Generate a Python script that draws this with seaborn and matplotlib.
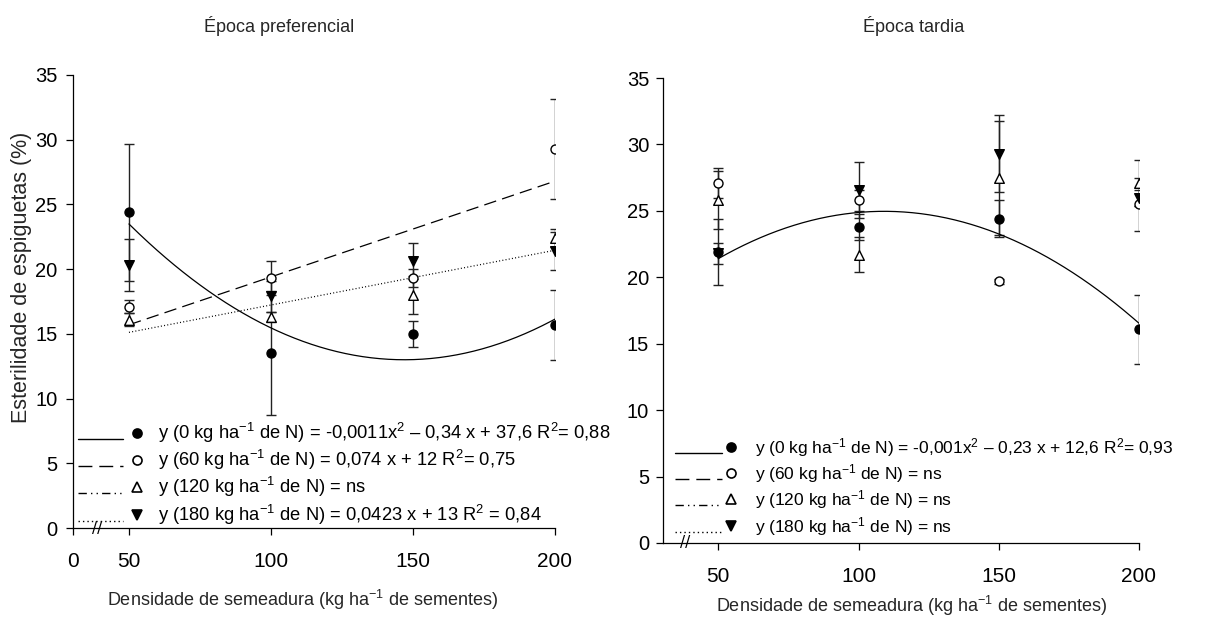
import numpy as np
import pandas as pd
import matplotlib
matplotlib.use("Agg")
import matplotlib.pyplot as plt
import seaborn as sns
from matplotlib.lines import Line2D
from matplotlib.transforms import blended_transform_factory

# ---------------- data ----------------
density = [50, 100, 150, 200]
x_ticks_left = [0, 50, 100, 150, 200]
x_ticks_right = [50, 100, 150, 200]
y_ticks = [0, 5, 10, 15, 20, 25, 30, 35]

# Época preferencial (spikelet sterility %, mean and error)
pref_n0 = [24.4, 13.5, 15.0, 15.7]
pref_n0_err = [5.3, 4.8, 1.0, 2.7]
pref_n60 = [17.1, 19.3, 19.3, 29.3]
pref_n60_err = [0.5, 1.3, 0.7, 3.85]
pref_n120 = [16.1, 16.3, 18.0, 22.4]
pref_n120_err = [0.5, 0.4, 1.5, 0.7]
pref_n180 = [20.3, 17.9, 20.6, 21.4]
pref_n180_err = [2.0, 1.2, 1.4, 1.5]

# Época tardia
tard_n0 = [21.9, 23.8, 24.4, 16.1]
tard_n0_err = [2.5, 1.0, 1.4, 2.6]
tard_n60 = [27.1, 25.8, 19.7, 25.5]
tard_n60_err = [1.1, 0.8, 0.2, 2.0]
tard_n120 = [25.8, 21.7, 27.5, 27.1]
tard_n120_err = [2.2, 1.3, 4.3, 1.7]
tard_n180 = [21.8, 26.6, 29.3, 26.0]
tard_n180_err = [0.8, 2.1, 2.9, 0.6]

# fitted trend lines (polynomial coefficients, highest power first)
pref_fit_n0 = [0.001116, -0.328, 37.1]
pref_fit_n60 = [0.074, 12.0]
pref_fit_n180 = [0.0423, 13.0]
tard_fit_n0 = [-0.00102, 0.2226, 12.82]

legend_left = [
    r"y (0 kg ha$^{-1}$ de N) = -0,0011x$^{2}$ – 0,34 x + 37,6 R$^{2}$= 0,88",
    r"y (60 kg ha$^{-1}$ de N) = 0,074 x + 12 R$^{2}$= 0,75",
    r"y (120 kg ha$^{-1}$ de N) = ns",
    r"y (180 kg ha$^{-1}$ de N) = 0,0423 x + 13 R$^{2}$ = 0,84",
]
legend_right = [
    r"y (0 kg ha$^{-1}$ de N) = -0,001x$^{2}$ – 0,23 x + 12,6 R$^{2}$= 0,93",
    r"y (60 kg ha$^{-1}$ de N) = ns",
    r"y (120 kg ha$^{-1}$ de N) = ns",
    r"y (180 kg ha$^{-1}$ de N) = ns",
]
xlabel = r"Densidade de semeadura (kg ha$^{-1}$ de sementes)"
ylabel = "Esterilidade de espiguetas (%)"

# ---------------- style ----------------
sns.set_theme(style="ticks")
plt.rcParams["font.family"] = ["Liberation Sans", "DejaVu Sans"]
plt.rcParams["mathtext.fontset"] = "custom"
plt.rcParams["mathtext.rm"] = "Liberation Sans"
plt.rcParams["mathtext.it"] = "Liberation Sans:italic"
plt.rcParams["mathtext.default"] = "regular"

W, H = 1207, 626
fig = plt.figure(figsize=(W / 100, H / 100), dpi=100)

def px(x, y):
    return x / W, 1 - y / H

# broken x-axis: 0-50 compressed
K = 0.394
def fwd(x):
    x = np.asarray(x, dtype=float)
    return np.where(x < 50, x * K, 50 * K + (x - 50))
def inv(u):
    u = np.asarray(u, dtype=float)
    return np.where(u < 50 * K, u / K, u - 50 * K + 50)

styles = {
    "N0": dict(marker="o", face="black", s=42, ls="-"),
    "N60": dict(marker="o", face="white", s=42, ls=(0, (10, 5))),
    "N120": dict(marker="^", face="white", s=48, ls=(0, (6, 3, 1, 3, 1, 3))),
    "N180": dict(marker="v", face="black", s=48, ls=(0, (0.8, 1.8))),
}

def draw_panel(ax, means, errs, fits, xticks, ypad, xpad, brk_x):
    ax.set_xscale("function", functions=(fwd, inv))
    for key in ["N0", "N60", "N120", "N180"]:
        ax.errorbar(density, means[key], yerr=errs[key], fmt="none",
                    ecolor="#222222", elinewidth=1.0, capsize=3.4, capthick=1.0, zorder=2)
    for key in ["N0", "N60", "N120", "N180"]:
        st = styles[key]
        df = pd.DataFrame({"x": density, "y": means[key]})
        sns.scatterplot(data=df, x="x", y="y", ax=ax, marker=st["marker"], s=st["s"],
                        color=st["face"], edgecolor="black", linewidth=1.0, zorder=4,
                        legend=False)
    xs = np.linspace(50, 200, 300)
    for key, coef in fits.items():
        sns.lineplot(x=xs, y=np.polyval(coef, xs), ax=ax, color="black", lw=0.9,
                     linestyle=styles[key]["ls"], zorder=3, estimator=None, sort=False)
    ax.set_xlim(0, 200)
    ax.set_ylim(0, 35)
    ax.set_xticks(xticks)
    ax.set_xticklabels([str(t) for t in xticks])
    ax.set_yticks(y_ticks)
    ax.set_yticklabels([str(t) for t in y_ticks])
    ax.minorticks_off()
    ax.set_xlabel("")
    ax.set_ylabel("")
    sns.despine(ax=ax)
    for sp in ["left", "bottom"]:
        ax.spines[sp].set_linewidth(0.9)
        ax.spines[sp].set_color("black")
    ax.tick_params(axis="y", direction="out", length=5, width=0.9, pad=ypad,
                   labelsize=14.5, colors="black")
    ax.tick_params(axis="x", direction="out", length=5, width=0.9, pad=xpad,
                   labelsize=15, colors="black")
    trans = blended_transform_factory(ax.transData, ax.transAxes)
    ax.text(brk_x, 0, "//", transform=trans, ha="center", va="center", fontsize=11,
            color="black", clip_on=False, family="DejaVu Sans")

axL = fig.add_axes([73 / W, 1 - 528 / H, (555 - 73) / W, (528 - 75) / H])
axR = fig.add_axes([663 / W, 1 - 543 / H, (1139 - 663) / W, (543 - 78) / H])

draw_panel(axL,
           {"N0": pref_n0, "N60": pref_n60, "N120": pref_n120, "N180": pref_n180},
           {"N0": pref_n0_err, "N60": pref_n60_err, "N120": pref_n120_err, "N180": pref_n180_err},
           {"N0": pref_fit_n0, "N60": pref_fit_n60, "N180": pref_fit_n180},
           x_ticks_left, ypad=6, xpad=12, brk_x=22)
draw_panel(axR,
           {"N0": tard_n0, "N60": tard_n60, "N120": tard_n120, "N180": tard_n180},
           {"N0": tard_n0_err, "N60": tard_n60_err, "N120": tard_n120_err, "N180": tard_n180_err},
           {"N0": tard_fit_n0},
           x_ticks_right, ypad=5, xpad=12, brk_x=20)

# ---------------- legends (drawn as in the original figure) ----------------
def draw_legend(x0, x1, xm, xt, rows, labels, fs):
    for key, yc, lab in zip(["N0", "N60", "N120", "N180"], rows, labels):
        st = styles[key]
        a, b = px(x0, yc + 6)
        c, _ = px(x1, yc + 6)
        ls = st["ls"] if key != "N180" else (0, (1, 2.2))
        fig.add_artist(Line2D([a, c], [b, b], transform=fig.transFigure,
                              color="black", lw=1.0, linestyle=ls))
        mx, my = px(xm, yc)
        fig.add_artist(Line2D([mx], [my], transform=fig.transFigure, marker=st["marker"],
                              markersize=6.5, markerfacecolor=st["face"],
                              markeredgecolor="black", markeredgewidth=1.2, linestyle="none"))
        tx, ty = px(xt, yc + 6)
        fig.text(tx, ty, lab, ha="left", va="baseline", fontsize=fs, color="black")

draw_legend(78, 123, 137, 158, [433, 460, 487, 515], legend_left, 13.2)
draw_legend(675, 722, 731, 755, [447, 473, 499, 526], legend_right, 12.5)

# ---------------- titles and axis labels ----------------
fig.text(*px(279, 26), "Época preferencial", ha="center", va="center", fontsize=13)
fig.text(*px(914, 26), "Época tardia", ha="center", va="center", fontsize=13)
fig.text(*px(303, 600), xlabel, ha="center", va="center", fontsize=13)
fig.text(*px(912, 606), xlabel, ha="center", va="center", fontsize=13)
fig.text(*px(22, 277), ylabel, ha="center", va="center", rotation=90, fontsize=15.5)

fig.savefig("out.png", dpi=100, facecolor="white")
